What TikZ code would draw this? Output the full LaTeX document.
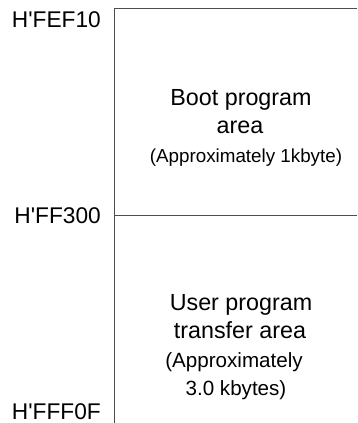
\documentclass[tikz,border=0pt]{standalone}
\usepackage{fontspec}
\setmainfont{Liberation Sans}
\begin{document}
\begin{tikzpicture}[x=1pt,y=-1pt,
  frame/.style={draw=black!70,line width=1pt},
  addr/.style={inner sep=0pt,anchor=base east,font=\fontsize{22.7}{27}\selectfont},
  big/.style={inner sep=0pt,anchor=base,font=\fontsize{23.3}{28}\selectfont},
  smalltop/.style={inner sep=0pt,anchor=base,font=\fontsize{18.8}{24}\selectfont},
  smallbot/.style={inner sep=0pt,anchor=base,font=\fontsize{20.6}{26}\selectfont}]
\useasboundingbox (0,0) rectangle (357,423);
% frame
\coordinate (tl) at (114,8);
\coordinate (tr) at (357,8);
\coordinate (ml) at (114,215);
\coordinate (mr) at (357,215);
\coordinate (bl) at (114,423);
\draw[frame] (tr) -- (tl) -- (bl);
\draw[frame] (ml) -- (mr);
% address labels
\node[addr] (a1) at (101,27.7) {H\textquotesingle FEF10};
\node[addr] (a2) at (101,223) {H\textquotesingle FF300};
\node[addr] (a3) at (101,419) {H\textquotesingle FFF0F};
% boot area
\node[big] (b1) at (241,105) {Boot program};
\node[big] (b2) at (240,133) {area};
\node[smalltop] (b3) at (246,162.5) {(Approximately 1kbyte)};
% user area
\node[big] (u1) at (241,310.5) {User program};
\node[big] (u2) at (240,338.5) {transfer area};
\node[smallbot] (u3) at (234,367.5) {(Approximately};
\node[smallbot] (u4) at (236,395) {3.0 kbytes)};
\end{tikzpicture}
\end{document}
